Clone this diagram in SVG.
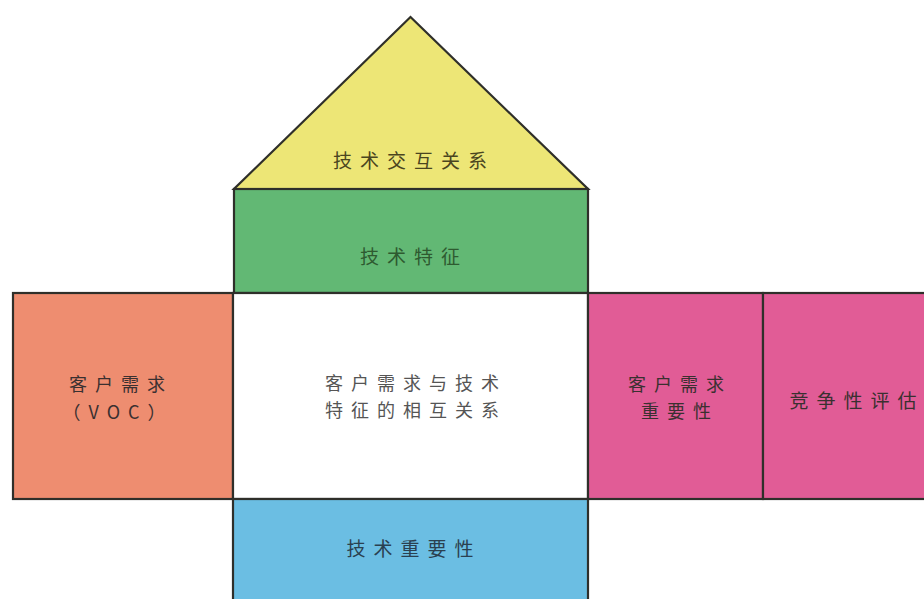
<svg xmlns="http://www.w3.org/2000/svg" width="924" height="599" viewBox="0 0 924 599">
<style>
.s{stroke:#2f2f2a;stroke-width:2.2}
.t{font-family:"Noto Sans CJK SC","Liberation Serif",serif;font-size:19px;text-anchor:middle;letter-spacing:8px;fill:#3a3030}
.m{font-size:18px}
</style>
<rect width="924" height="599" fill="#ffffff"/>
<g id="roof">
<polygon class="s" points="410.5,17 234,189 588,189" fill="#EDE676"/>
<text class="t" x="414" y="168" style="fill:#4a4520">技术交互关系</text>
</g>
<g id="tech-features">
<rect class="s" x="234" y="189" width="354" height="104" fill="#62B874"/>
<text class="t" x="414" y="264" style="fill:#2e5a30">技术特征</text>
</g>
<g id="voc">
<rect class="s" x="13" y="293" width="220" height="206" fill="#EE8D70"/>
<text class="t m" x="121" y="391">客户需求</text>
<text class="t m" x="118" y="419" letter-spacing="1">（VOC）</text>
</g>
<g id="relationship">
<rect class="s" x="233" y="293" width="355" height="206" fill="#ffffff"/>
<text class="t m" x="416" y="390" style="fill:#555">客户需求与技术</text>
<text class="t m" x="416" y="417" style="fill:#555">特征的相互关系</text>
</g>
<g id="importance">
<rect class="s" x="588" y="293" width="175" height="206" fill="#E15C96"/>
<text class="t m" x="680" y="391">客户需求</text>
<text class="t m" x="680" y="418">重要性</text>
</g>
<g id="competitive">
<rect class="s" x="763" y="293" width="170" height="206" fill="#E15C96"/>
<text class="t" x="857" y="408">竞争性评估</text>
</g>
<g id="tech-importance">
<rect class="s" x="233" y="499" width="355" height="110" fill="#6BBEE3"/>
<text class="t" x="414" y="556" style="fill:#2a4050">技术重要性</text>
</g>
<g id="connectors"></g>
</svg>
